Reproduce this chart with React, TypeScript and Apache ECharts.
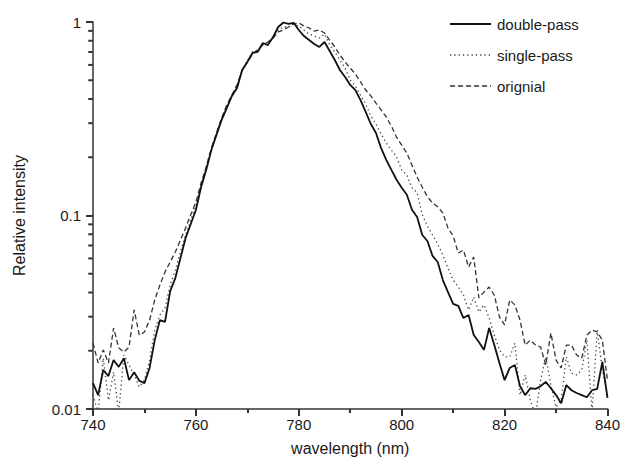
import React, { useEffect, useRef } from "react";
import * as echarts from "echarts";

const WL_START = 740;
const WL_STEP = 1;

const doublePass = [
  0.0136, 0.0118, 0.0159, 0.0148, 0.0179, 0.0165, 0.0183, 0.0141, 0.0155, 0.014,
  0.0136, 0.0163, 0.0227, 0.0288, 0.0282, 0.0407, 0.0475, 0.0603, 0.0765, 0.0904,
  0.1067, 0.14, 0.172, 0.218, 0.261, 0.312, 0.359, 0.415, 0.456, 0.565,
  0.621, 0.692, 0.7, 0.779, 0.76, 0.836, 0.942, 0.994, 0.977, 0.99,
  0.909, 0.846, 0.807, 0.769, 0.743, 0.788, 0.708, 0.636, 0.565, 0.52,
  0.473, 0.445, 0.395, 0.343, 0.297, 0.267, 0.223, 0.194, 0.172, 0.153,
  0.139, 0.128, 0.107, 0.0982, 0.0793, 0.0738, 0.0618, 0.0575, 0.0464, 0.0402,
  0.0349, 0.0341, 0.0295, 0.0306, 0.0241, 0.0222, 0.0202, 0.0262, 0.0214, 0.0173,
  0.0141, 0.0163, 0.0169, 0.0131, 0.0118, 0.0128, 0.0127, 0.0131, 0.0138, 0.0128,
  0.0118, 0.0107, 0.0133, 0.0125, 0.0121, 0.0118, 0.0115, 0.0125, 0.0127, 0.0175,
  0.0114,
];

const singlePass = [
  0.0118, 0.0096, 0.0183, 0.0111, 0.0155, 0.0096, 0.019, 0.0169, 0.015, 0.013,
  0.0141, 0.0179, 0.0256, 0.0306, 0.0333, 0.0437, 0.0523, 0.0648, 0.0793, 0.0948,
  0.113, 0.144, 0.176, 0.223, 0.264, 0.315, 0.368, 0.419, 0.467, 0.565,
  0.629, 0.7, 0.717, 0.769, 0.788, 0.827, 0.909, 0.942, 0.942, 0.977,
  0.954, 0.909, 0.867, 0.846, 0.827, 0.867, 0.76, 0.7, 0.636, 0.578,
  0.501, 0.467, 0.419, 0.377, 0.327, 0.297, 0.264, 0.237, 0.218, 0.201,
  0.172, 0.162, 0.139, 0.131, 0.101, 0.0883, 0.0793, 0.0712, 0.0625, 0.0535,
  0.0464, 0.0427, 0.0388, 0.0325, 0.0379, 0.0317, 0.0345, 0.0295, 0.0241, 0.0202,
  0.0186, 0.0186, 0.0219, 0.0118, 0.015, 0.0111, 0.0093, 0.0141, 0.0186, 0.0133,
  0.0102, 0.0111, 0.0186, 0.0153, 0.015, 0.0159, 0.0227, 0.0096, 0.0256, 0.0159,
  0.0118,
];

const original = [
  0.0219, 0.0173, 0.0202, 0.0173, 0.0262, 0.0207, 0.0197, 0.0209, 0.0325, 0.0241,
  0.025, 0.0288, 0.0366, 0.0437, 0.0511, 0.0575, 0.0648, 0.0747, 0.0862, 0.101,
  0.117, 0.147, 0.178, 0.223, 0.267, 0.319, 0.372, 0.419, 0.473, 0.565,
  0.621, 0.683, 0.717, 0.76, 0.788, 0.827, 0.888, 0.909, 0.942, 0.977,
  0.99, 0.954, 0.931, 0.898, 0.909, 0.877, 0.807, 0.743, 0.675, 0.621,
  0.578, 0.539, 0.49, 0.445, 0.415, 0.381, 0.351, 0.323, 0.29, 0.254,
  0.231, 0.21, 0.182, 0.158, 0.14, 0.125, 0.116, 0.111, 0.103, 0.0862,
  0.0784, 0.064, 0.0663, 0.0542, 0.061, 0.0375, 0.0402, 0.0427, 0.0388, 0.0299,
  0.0272, 0.0366, 0.0345, 0.0288, 0.0214, 0.0227, 0.0214, 0.0209, 0.0169, 0.0247,
  0.0179, 0.0163, 0.0214, 0.0214, 0.019, 0.0183, 0.0241, 0.0256, 0.025, 0.0227,
  0.0141,
];

const seriesNames = ["double-pass", "single-pass", "orignial"];
const xTicks = [740, 760, 780, 800, 820, 840];
const yMinorTicks = [0.02, 0.03, 0.04, 0.05, 0.06, 0.07, 0.08, 0.09, 0.2, 0.3, 0.4, 0.5, 0.6, 0.7, 0.8, 0.9];

const toPairs = (vals: number[]) => vals.map((v, i) => [WL_START + i * WL_STEP, v]);

const SOLID = { color: "#111", width: 1.8, dash: null as number[] | null };
const DOTTED = { color: "#444", width: 1.3, dash: [1.3, 3] };
const DASHED = { color: "#333", width: 1.3, dash: [5, 3] };
const styles = [SOLID, DOTTED, DASHED];

export default function App() {
  const ref = useRef<HTMLDivElement>(null);
  useEffect(() => {
    if (!ref.current) return;
    const chart = echarts.init(ref.current, null, { renderer: "svg" });
    const font = "Liberation Sans, Arial, sans-serif";
    const ink = "#1a1a1a";
    const axisCol = "#333";

    const legendGraphics: any[] = [];
    seriesNames.forEach((name, i) => {
      const y = 24 + i * 31;
      const s = styles[i];
      legendGraphics.push({
        type: "line",
        shape: { x1: 450, y1: y, x2: 491, y2: y },
        style: { stroke: s.color, lineWidth: s.width, lineDash: s.dash || undefined },
        silent: true,
      });
      legendGraphics.push({
        type: "text",
        x: 497,
        y: y,
        style: { text: name, fontSize: 15, fill: ink, fontFamily: font, verticalAlign: "middle", align: "left" },
        silent: true,
      });
    });

    chart.setOption({
      animation: false,
      backgroundColor: "#ffffff",
      textStyle: { fontFamily: font },
      grid: { left: 93, right: 15, top: 22, bottom: 57, containLabel: false },
      graphic: legendGraphics,
      xAxis: {
        type: "value",
        min: xTicks[0],
        max: xTicks[xTicks.length - 1],
        interval: 20,
        name: "wavelength (nm)",
        nameLocation: "middle",
        nameGap: 31,
        nameTextStyle: { fontSize: 16, color: ink, fontFamily: font },
        axisLine: { show: true, onZero: false, lineStyle: { color: axisCol, width: 1.5 } },
        axisTick: { show: true, inside: false, length: 7, lineStyle: { color: axisCol, width: 2 } },
        minorTick: { show: true, splitNumber: 2, length: 4, lineStyle: { color: axisCol, width: 2 } },
        axisLabel: { fontSize: 15, color: ink, margin: 8, fontFamily: font },
        splitLine: { show: false },
        minorSplitLine: { show: false },
      },
      yAxis: {
        type: "log",
        logBase: 10,
        min: 0.01,
        max: 1,
        splitLine: { show: false },
        name: "Relative intensity",
        nameLocation: "middle",
        nameRotate: 90,
        nameGap: 66,
        nameTextStyle: { fontSize: 16, color: ink, fontFamily: font },
        axisLine: { show: true, lineStyle: { color: axisCol, width: 1.5 } },
        axisTick: { show: true, inside: false, length: 7, lineStyle: { color: axisCol, width: 2 } },
        axisLabel: {
          fontSize: 15,
          color: ink,
          margin: 12,
          fontFamily: font,
          formatter: (v: number) => (v >= 1 ? "1" : v >= 0.1 ? "0.1" : "0.01"),
        },
      },
      series: [
        ...seriesNames.map((name, i) => ({
          name,
          type: "line",
          data: toPairs([doublePass, singlePass, original][i]),
          symbol: "none",
          showSymbol: false,
          lineStyle: { color: styles[i].color, width: styles[i].width, type: styles[i].dash || "solid" },
          itemStyle: { color: styles[i].color },
          z: 5 - i,
        })),
        {
          name: "y-minor-ticks",
          type: "scatter",
          silent: true,
          clip: false,
          data: yMinorTicks.map((v) => [WL_START, v]),
          symbol: "rect",
          symbolSize: [4.5, 2],
          symbolOffset: [-2.5, 0],
          itemStyle: { color: axisCol, opacity: 1 },
          z: 10,
        },
      ],
    });
    return () => chart.dispose();
  }, []);
  return (
    <div
      ref={ref}
      style={{ position: "fixed", left: 0, top: 0, width: 623, height: 466, background: "#fff" }}
    />
  );
}
